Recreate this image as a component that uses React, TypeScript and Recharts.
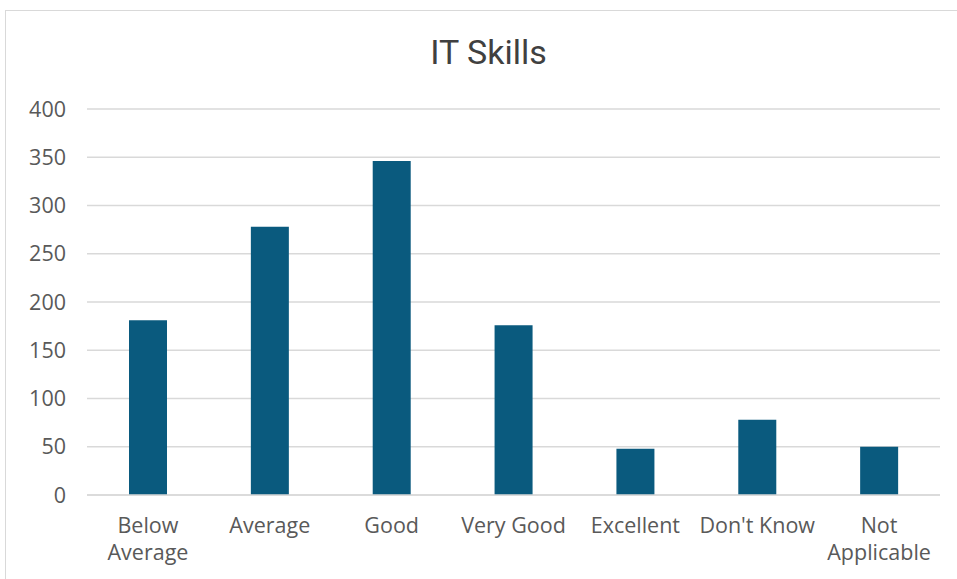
import { BarChart, Bar, XAxis, YAxis, CartesianGrid } from "recharts";

const categories = ["Below Average", "Average", "Good", "Very Good", "Excellent", "Don't Know", "Not Applicable"];
const counts = [181, 278, 346, 176, 48, 78, 50];
const tickLines: Record<string, string[]> = {
  "Below Average": ["Below", "Average"],
  "Not Applicable": ["Not", "Applicable"],
};
const yTicks = [0, 50, 100, 150, 200, 250, 300, 350, 400];

const rows = categories.map((c, i) => ({ name: c, value: counts[i] }));

const FONT = "'Open Sans', Roboto, sans-serif";

function CatTick(props: any) {
  const { x, y, payload } = props;
  const lines = tickLines[payload.value] || [payload.value];
  return (
    <g transform={`translate(${x},${y})`}>
      {lines.map((l: string, i: number) => (
        <text
          key={i}
          x={0}
          y={i * 27}
          dy={30}
          textAnchor="middle"
          fill="#595959"
          fontSize={21.5}
          fontFamily={FONT}
        >
          {l}
        </text>
      ))}
    </g>
  );
}

export default function App() {
  return (
    <div
      style={{
        position: "absolute",
        left: 0,
        top: 0,
        width: 957,
        height: 579,
        background: "#fff",
        overflow: "hidden",
      }}
    >
      <div
        style={{
          position: "absolute",
          left: 5,
          top: 10,
          width: 960,
          height: 600,
          border: "1px solid #d9d9d9",
        }}
      />
      <div
        style={{
          position: "absolute",
          left: 0,
          top: 32,
          width: 977,
          textAlign: "center",
          fontFamily: "Roboto, sans-serif",
          fontSize: 34,
          color: "#404040",
        }}
      >
        IT Skills
      </div>
      <div style={{ position: "absolute", left: 0, top: 0 }}>
        <BarChart
          width={957}
          height={579}
          data={rows}
          margin={{ top: 109, right: 17, bottom: 14, left: 27 }}
        >
          <CartesianGrid vertical={false} stroke="#d9d9d9" strokeWidth={1.5} />
          <XAxis
            dataKey="name"
            interval={0}
            height={70}
            tickLine={false}
            axisLine={{ stroke: "#d9d9d9", strokeWidth: 1.5 }}
            tick={<CatTick />}
          />
          <YAxis
            width={60}
            domain={[0, 400]}
            ticks={yTicks}
            tickLine={false}
            axisLine={false}
            tickSize={0}
            tickMargin={21}
            tick={{ fill: "#595959", fontSize: 21.5, fontFamily: FONT }}
          />
          <Bar dataKey="value" fill="#0a5a7e" barSize={38} isAnimationActive={false} />
        </BarChart>
      </div>
    </div>
  );
}
